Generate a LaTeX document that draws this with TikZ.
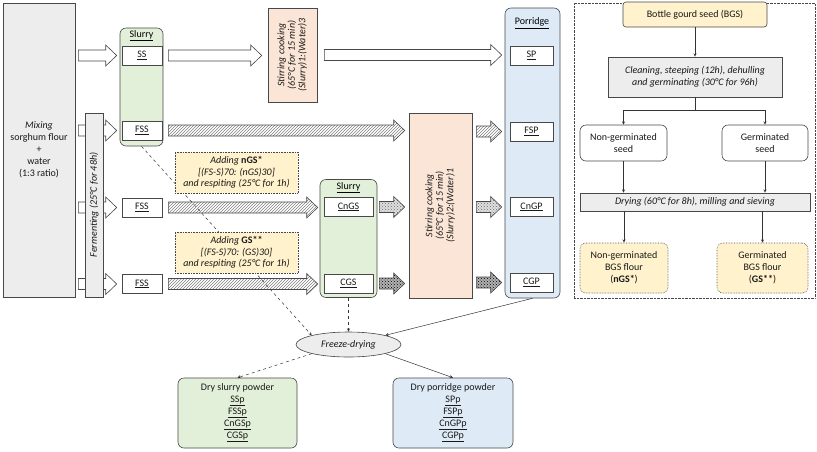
\documentclass[tikz,border=0pt]{standalone}
\usepackage{graphicx}
\usepackage{fontspec}
\setmainfont{Carlito}
\usetikzlibrary{shapes,shapes.geometric,arrows,calc,positioning,patterns}

\definecolor{slurrygreen}{HTML}{E2F0D9}
\definecolor{porridgeblue}{HTML}{DEEBF7}
\definecolor{cookorange}{HTML}{FBE5D6}
\definecolor{seedyellow}{HTML}{FFF2CC}
\definecolor{stepgray}{HTML}{EDEDED}
\definecolor{edgegray}{HTML}{484848}

\tikzset{
  box/.style={draw=edgegray, line width=0.6pt, rectangle, inner sep=1pt, align=center,
    font=\fontsize{10}{12}\selectfont, text=black!90},
  graybox/.style={box, fill=stepgray},
  greenbox/.style={box, fill=slurrygreen, rounded corners=6pt},
  bluebox/.style={box, fill=porridgeblue, rounded corners=6pt},
  cookbox/.style={box, fill=cookorange},
  addbox/.style={box, fill=seedyellow, densely dotted,
    font=\fontsize{10}{11.5}\selectfont\itshape},
  flourbox/.style={box, fill=seedyellow, densely dotted, rounded corners=6pt},
  seedbox/.style={box, fill=white, rounded corners=6pt},
  sample/.style={box, fill=white, minimum height=19},
  title/.style={font=\fontsize{10}{12}\selectfont, inner sep=0pt},
  plain arr/.style={draw=edgegray, line width=0.6pt, fill=white},
  hatch arr/.style={draw=edgegray, line width=0.6pt, pattern=north east lines, pattern color=gray},
  dot arr/.style={draw=edgegray, line width=0.6pt, preaction={fill=black!12},
    pattern=crosshatch dots, pattern color=black!60},
  dense arr/.style={draw=edgegray, line width=0.6pt, preaction={fill=black!30},
    pattern=crosshatch dots, pattern color=black},
  link/.style={black!80, line width=0.5pt},
}

% block arrow between two points of the same height
\newcommand{\blockarrow}[3][plain arr]{%
  \path[#1] let \p1=(#2), \p2=(#3) in
    (\x1,\y1+5.5) -- (\x2-11,\y1+5.5) -- (\x2-11,\y1+10.5) -- (\x2,\y1)
    -- (\x2-11,\y1-10.5) -- (\x2-11,\y1-5.5) -- (\x1,\y1-5.5) -- cycle;}

\begin{document}
\begin{tikzpicture}[%
>=stealth,
x=1pt, y=-1pt
]
\useasboundingbox (0,0) rectangle (817,451);

% left: sorghum part
\node[graybox, minimum width=72, minimum height=294] (mix) at (39,150)
  {\textit{Mixing}\\sorghum flour\\+\\water\\(1:3 ratio)};

\node[greenbox, minimum width=43, minimum height=118] (slurry1) at (141.5,87) {};
\node[title] (slurry1t) at (141.5,36) {\underline{Slurry}};
\node[sample, minimum width=40] (SS) at (142,55.5) {\underline{SS}};
\node[sample, minimum width=40] (FSS1) at (142,130.5) {\underline{FSS}};
\node[sample, minimum width=40] (FSS2) at (142,207.5) {\underline{FSS}};
\node[sample, minimum width=40] (FSS3) at (142,284) {\underline{FSS}};

\node[greenbox, minimum width=57, minimum height=118] (slurry2) at (348.5,238.5) {};
\node[title] (slurry2t) at (348.5,188) {\underline{Slurry}};
\node[sample, minimum width=49] (CnGS) at (348.5,207) {\underline{CnGS}};
\node[sample, minimum width=49] (CGS) at (348.5,283.5) {\underline{CGS}};

\node[cookbox, minimum width=49, minimum height=94] (stir1) at (292.5,55)
  {\rotatebox{90}{\itshape\begin{tabular}{@{}c@{}}Stirring cooking\\[-1.5pt]
   (65°C for 15 min)\\[-1.5pt](Slurry)1:(Water)3\end{tabular}}};
\node[cookbox, minimum width=63, minimum height=185] (stir2) at (440.5,205.5)
  {\rotatebox{90}{\itshape\begin{tabular}{@{}c@{}}Stirring cooking\\[-1.5pt]
   (65°C for 15 min)\\[-1.5pt](Slurry)2:(Water)1\end{tabular}}};

\node[bluebox, minimum width=55, minimum height=290] (porridge) at (532.5,153) {};
\node[title] (porridget) at (532,23) {\underline{Porridge}};
\node[sample, minimum width=43] (SP) at (531.5,55.5) {\underline{SP}};
\node[sample, minimum width=43] (FSP) at (531.5,131.5) {\underline{FSP}};
\node[sample, minimum width=43] (CnGP) at (531.5,207) {\underline{CnGP}};
\node[sample, minimum width=43] (CGP) at (531.5,282.5) {\underline{CGP}};

% freeze-drying
\node[graybox, ellipse, minimum width=105, minimum height=25, inner sep=0pt]
  (freeze) at (348.5,344.5) {\textit{Freeze-drying}};

% dashed line runs behind the adding boxes
\path[->, link, dashed] (slurry1.south) edge (freeze.166);

\node[addbox, minimum width=123, minimum height=41] (addnGS) at (236.5,172.5)
  {Adding \textbf{\upshape nGS*}\\{}[(FS-S)70: (nGS)30]\\and respiting (25°C for 1h)};
\node[addbox, minimum width=123, minimum height=41] (addGS) at (236.5,252.5)
  {Adding \textbf{\upshape GS**}\\{}[(FS-S)70: (GS)30]\\and respiting (25°C for 1h)};

% block arrows from the mixing box
\blockarrow{$(mix.east |- SS)+(3,0)$}{$(slurry1.west |- SS)+(-3,0)$}
\blockarrow{$(mix.east |- FSS1)+(3,0)$}{$(slurry1.west |- FSS1)+(-3,0)$}
\blockarrow{$(mix.east |- FSS2)+(3,0)$}{$(FSS2.west)+(-5,0)$}
\blockarrow{$(mix.east |- FSS3)+(3,0)$}{$(FSS3.west)+(-5,0)$}

\node[graybox, minimum width=18, minimum height=184] (ferm) at (94,205)
  {\rotatebox{90}{\textit{Fermenting (25°C for 48h)}}};

% slurry to cooking to porridge
\blockarrow{$(slurry1.east |- SS)+(5,0)$}{$(stir1.west |- SS)+(-6,0)$}
\blockarrow{$(stir1.east)+(7,0)$}{$(porridge.west |- SP)+(-3,0)$}
\blockarrow[hatch arr]{$(slurry1.east |- FSS1)+(5,0)$}{$(stir2.west |- FSS1)+(-4,0)$}
\blockarrow[hatch arr]{$(stir2.east |- FSP)+(4,0)$}{$(porridge.west |- FSP)+(-3,0)$}
\blockarrow[hatch arr]{$(FSS2.east)+(6,0)$}{$(slurry2.west |- FSS2)+(-2,0)$}
\blockarrow[hatch arr]{$(FSS3.east)+(6,0)$}{$(slurry2.west |- FSS3)+(-2,0)$}
\blockarrow[dot arr]{$(slurry2.east |- CnGS)+(2,0)$}{$(stir2.west |- CnGS)+(-4,0)$}
\blockarrow[dot arr]{$(stir2.east |- CnGP)+(4,0)$}{$(porridge.west |- CnGP)+(-3,0)$}
\blockarrow[dense arr]{$(slurry2.east |- CGS)+(2,0)$}{$(stir2.west |- CGS)+(-4,0)$}
\blockarrow[dense arr]{$(stir2.east |- CGP)+(4,0)$}{$(porridge.west |- CGP)+(-3,0)$}

\node[greenbox, minimum width=119, minimum height=70] (dryslurry) at (237.5,413)
  {Dry slurry powder\\\underline{SSp}\\\underline{FSSp}\\\underline{CnGSp}\\\underline{CGSp}};
\node[bluebox, minimum width=120, minimum height=70] (dryporridge) at (453,413)
  {Dry porridge powder\\\underline{SPp}\\\underline{FSPp}\\\underline{CnGPp}\\\underline{CGPp}};

\path[->, link, dashed] (slurry2.south) edge (freeze.north);
\path[->, link] (porridge.south) edge (freeze.14);
\path[->, link, dashed] (freeze.194) edge (dryslurry.north);
\path[->, link] (freeze.-14) edge (dryporridge.north);

% right: bottle gourd seed part
\node[draw=edgegray, densely dotted, minimum width=241, minimum height=295] (panel)
  at (694.5,150.5) {};
\node[box, fill=seedyellow, rounded corners=3pt, minimum width=144, minimum height=25]
  (BGS) at (695,14.5) {Bottle gourd seed (BGS)};
\node[graybox, minimum width=174, minimum height=40] (clean) at (695,77)
  {\textit{Cleaning, steeping (12h), dehulling}\\\textit{and germinating (30°C for 96h)}};
\node[seedbox, minimum width=87, minimum height=36] (nonger) at (623.5,143)
  {Non-germinated\\seed};
\node[seedbox, minimum width=86, minimum height=36] (ger) at (765,143)
  {Germinated\\seed};
\node[graybox, minimum width=230, minimum height=18] (drying) at (695,202)
  {\textit{Drying (60°C for 8h), milling and sieving}};
\node[flourbox, minimum width=88, minimum height=50] (nGSflour) at (624,268)
  {Non-germinated\\BGS flour\\(\textbf{nGS*})};
\node[flourbox, minimum width=91, minimum height=50] (GSflour) at (762.5,268)
  {Germinated\\BGS flour\\(\textbf{GS**})};

\coordinate (split) at ($(clean.south)+(0,13)$);
\path[->, link] (BGS) edge (clean);
\draw[link] (clean.south) -- (split);
\draw[->, link] (split) -| (nonger.north);
\draw[->, link] (split) -| (ger.north);
\path[->, link] (nonger) edge (nonger |- drying.north);
\path[->, link] (ger) edge (ger |- drying.north);
\path[->, link] (drying.south -| nGSflour) edge (nGSflour);
\path[->, link] (drying.south -| GSflour) edge (GSflour);
\end{tikzpicture}
\end{document}
